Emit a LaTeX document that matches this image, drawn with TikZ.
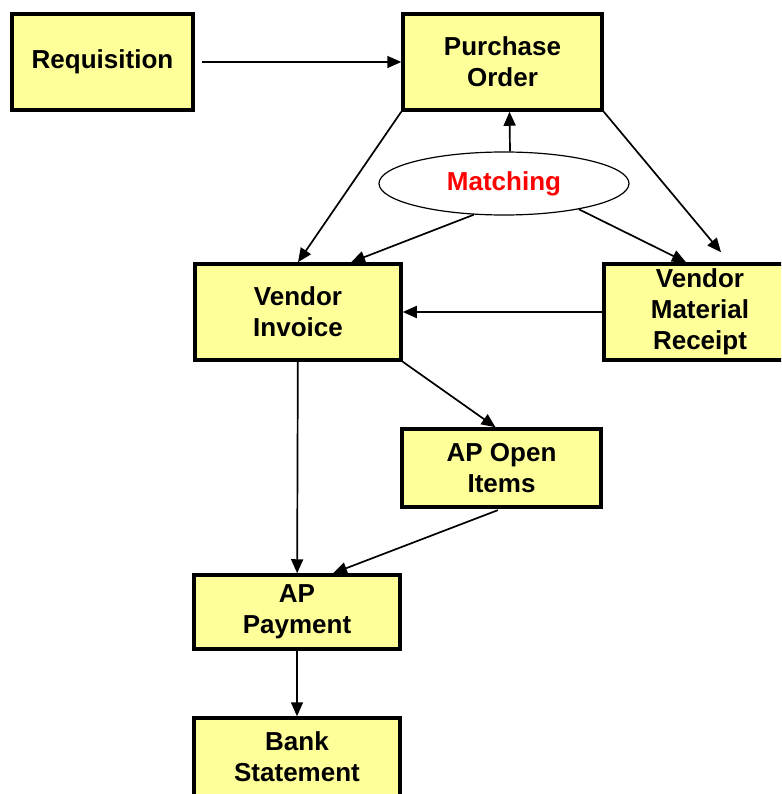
\documentclass[tikz,border=0pt]{standalone}
\usepackage{fontspec}
\setmainfont{Liberation Sans}
\usetikzlibrary{arrows.meta,shapes.geometric}
\definecolor{amarillo}{RGB}{255,255,153}
\begin{document}
\begin{tikzpicture}[x=1pt,y=-1pt,
   caja/.style={draw, line width=3.5pt, fill=amarillo, align=center, inner sep=0pt,
      font=\fontsize{26}{31}\selectfont\bfseries},
   flecha/.style={-{Triangle[length=14pt,width=12pt]}, line width=1.7pt}]
   \useasboundingbox (0,0) rectangle (781,794);
   \clip (0,0) rectangle (781,794);

   \node[caja, minimum width=181pt, minimum height=96pt] (req) at (102.5,62) {Requisition};
   \node[caja, minimum width=199pt, minimum height=96pt] (po) at (502.5,62) {Purchase\\Order};
   \node[draw, ellipse, line width=1.2pt, fill=white, minimum width=250pt, minimum height=63pt,
      text=red, font=\fontsize{26}{31}\selectfont\bfseries] (match) at (504,183.5) {Matching};
   \node[caja, minimum width=206pt, minimum height=96pt] (vi) at (298,312) {Vendor\\Invoice};
   \node[caja, minimum width=192pt, minimum height=96pt] (vmr) at (700,312) {Vendor\\Material\\Receipt};
   \node[caja, minimum width=199pt, minimum height=78pt] (apo) at (501.5,468) {AP Open\\Items};
   \node[caja, minimum width=206pt, minimum height=74pt] (app) at (297,612) {AP\\Payment};
   \node[caja, minimum width=206pt, minimum height=78pt] (bank) at (297,757) {Bank\\Statement};

   \draw[flecha, shorten <=7pt] (req) -- (po);
   \draw[flecha] ([xshift=6pt]match.north) -- ([xshift=7pt]po.south);
   \draw[flecha] (po.south west) -- (vi.north);
   \draw[flecha] (po.south east) -- ([xshift=21pt,yshift=10pt]vmr.north);
   \draw[flecha] (match.226) -- ([xshift=53pt]vi.north);
   \draw[flecha] (match.-19) -- ([xshift=-14pt]vmr.north);
   \draw[flecha] (vmr) -- (vi);
   \draw[flecha] (vi.south east) -- ([xshift=-6pt]apo.north);
   \draw[flecha] (vi) -- (app);
   \draw[flecha, shorten <=4pt] (apo.south) -- ([xshift=36pt]app.north);
   \draw[flecha] (app) -- (bank);
\end{tikzpicture}
\end{document}
